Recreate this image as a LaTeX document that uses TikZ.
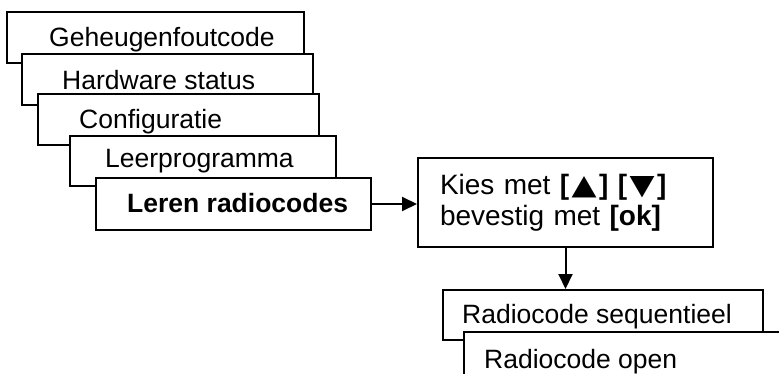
\documentclass[tikz,border=0pt]{standalone}
\usepackage{fontspec}
\setmainfont{Liberation Sans}
\newfontfamily\symfont{DejaVu Sans}
\usetikzlibrary{arrows.meta,positioning}

\newcommand{\keyup}{\kern2.5pt{\symfont\resizebox{25pt}{18pt}{▲}}\kern2.5pt}
\newcommand{\keydown}{\kern2.5pt{\symfont\resizebox{25pt}{18pt}{▼}}\kern2.5pt}

\tikzset{
  menubox/.style={draw, fill=white, line width=2pt, anchor=north west, inner sep=0pt},
  menutext/.style={anchor=base west, inner sep=0pt, font=\fontsize{26.5}{29}\selectfont},
  flow/.style={line width=2pt, -{Triangle[length=15pt,width=14pt]}}
}

\begin{document}
\begin{tikzpicture}[x=1pt, y=-1pt]
        \useasboundingbox (0,0) rectangle (779,374);
        \clip (0,0) rectangle (779,374);

        % Menu stack, back to front
        \node[menubox, minimum width=297pt, minimum height=51pt] (geheugen) at (6,11) {};
        \node[menutext] (geheugentxt) at ([xshift=43pt, yshift=-36pt]geheugen.north west) {Geheugenfoutcode};
        \node[menubox, minimum width=291pt, minimum height=51pt] (hardware) at (21,53) {};
        \node[menutext] (hardwaretxt) at ([xshift=41pt, yshift=-37pt]hardware.north west) {Hardware status};
        \node[menubox, minimum width=281pt, minimum height=51pt] (config) at (37,93) {};
        \node[menutext] (configtxt) at ([xshift=42pt, yshift=-36pt]config.north west) {Configuratie};
        \node[menubox, minimum width=266pt, minimum height=50pt] (leerprog) at (69,135) {};
        \node[menutext] (leerprogtxt) at ([xshift=36pt, yshift=-33pt]leerprog.north west) {Leerprogramma};
        \node[menubox, minimum width=275pt, minimum height=52pt] (leren) at (95,177) {};
        \node[menutext] (lerentxt) at ([xshift=32pt, yshift=-36pt]leren.north west) {\bfseries Leren radiocodes};

        % Selection hint
        \node[menubox, minimum width=295pt, minimum height=89pt, text width=251pt, inner xsep=22pt,
              align=left, anchor=center, font=\fontsize{28}{31}\selectfont] (kies) at (565.5,202.5)
              {Kies met \textbf{[\keyup] [\keydown]}\\bevestig met \textbf{[ok]}};

        % Radiocode submenu
        \node[menubox, minimum width=320pt, minimum height=50pt] (radioseq) at (442,289) {};
        \node[menutext] (radioseqtxt) at ([xshift=20pt, yshift=-34pt]radioseq.north west) {Radiocode sequentieel};
        \node[menubox, minimum width=340pt, minimum height=60pt] (radioopen) at (463,331) {};
        \node[menutext] (radioopentxt) at ([xshift=21pt, yshift=-37pt]radioopen.north west) {Radiocode open};

        % Connectors
        \draw[flow] (leren.east) -- (leren.east -| kies.west);
        \draw[flow] (kies.south) -- (kies.south |- radioseq.north);
    \end{tikzpicture}
\end{document}
